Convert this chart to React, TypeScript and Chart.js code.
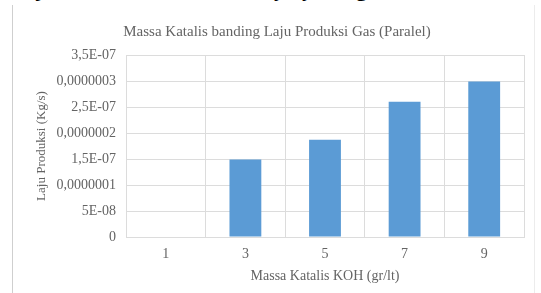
import React, { useEffect, useRef } from "react";
import { Chart, registerables } from "chart.js";

Chart.register(...registerables);

const categories = ["1", "3", "5", "7", "9"];
const values = [0, 1.49e-7, 1.87e-7, 2.6e-7, 2.99e-7];
const yTickLabels = ["0", "5E-08", "0,0000001", "1,5E-07", "0,0000002", "2,5E-07", "0,0000003", "3,5E-07"];
const titleText = "Massa Katalis banding Laju Produksi Gas (Paralel)";
const xTitle = "Massa Katalis KOH (gr/lt)";
const yTitle = "Laju Produksi (Kg/s)";
const headerFragments = [
  { ch: "j", x: 36 },
  { ch: "y", x: 274 },
  { ch: "y", x: 302 },
  { ch: "g", x: 356 },
];

const FONT = "'Liberation Serif', 'Times New Roman', serif";
const TEXT = "#646464";
const GRID = "#dcdcdc";

export default function App() {
  const ref = useRef<HTMLCanvasElement>(null);
  useEffect(() => {
    const ctx = ref.current!;
    const chart = new Chart(ctx, {
      type: "bar",
      data: {
        labels: categories,
        datasets: [
          {
            data: values,
            backgroundColor: "#5b9bd5",
            borderWidth: 0,
            categoryPercentage: 1,
            barPercentage: 0.4,
          },
        ],
      },
      options: {
        animation: false,
        responsive: false,
        devicePixelRatio: 1,
        layout: { padding: { left: 17, right: 10, top: 0, bottom: 8 } },
        plugins: {
          legend: { display: false },
          tooltip: { enabled: false },
          title: {
            display: true,
            text: titleText,
            color: TEXT,
            font: { family: FONT, size: 15, weight: "normal" },
            padding: { top: 18, bottom: 14 },
          },
        },
        scales: {
          x: {
            grid: { color: GRID, offset: true, drawTicks: false },
            border: { color: GRID },
            afterFit: (s: any) => {
              s.height = 48;
            },
            ticks: { color: TEXT, font: { family: FONT, size: 14 }, padding: 9 },
            title: {
              display: true,
              text: xTitle,
              color: TEXT,
              font: { family: FONT, size: 14 },
              padding: { top: 0, bottom: 0 },
            },
          },
          y: {
            min: 0,
            max: 3.5e-7,
            grid: { color: GRID, drawTicks: false },
            border: { color: GRID },
            afterFit: (s: any) => {
              s.width = 96;
            },
            ticks: {
              stepSize: 5e-8,
              color: TEXT,
              font: { family: FONT, size: 14 },
              padding: 10,
              callback: (_v: any, i: number) => yTickLabels[i],
            },
            title: {
              display: true,
              text: yTitle,
              color: TEXT,
              font: { family: FONT, size: 13 },
              padding: 4,
            },
          },
        },
      },
    });
    return () => chart.destroy();
  }, []);

  return (
    <div style={{ position: "fixed", left: 0, top: 0, width: 541, height: 293, background: "#fff", overflow: "hidden" }}>
      {headerFragments.map((f, i) => (
        <span
          key={i}
          style={{
            position: "absolute",
            left: f.x,
            top: -22,
            fontFamily: FONT,
            fontWeight: "bold",
            fontSize: 22,
            lineHeight: "22px",
            color: "#000",
          }}
        >
          {f.ch}
        </span>
      ))}
      <div
        style={{
          position: "absolute",
          left: 12,
          top: 5,
          width: 521,
          height: 300,
          borderLeft: "1px solid #cfcfcf",
          borderRight: "1px solid #ececec",
        }}
      />
      <canvas ref={ref} width={521} height={288} style={{ position: "absolute", left: 13, top: 5, width: 521, height: 288 }} />
    </div>
  );
}
